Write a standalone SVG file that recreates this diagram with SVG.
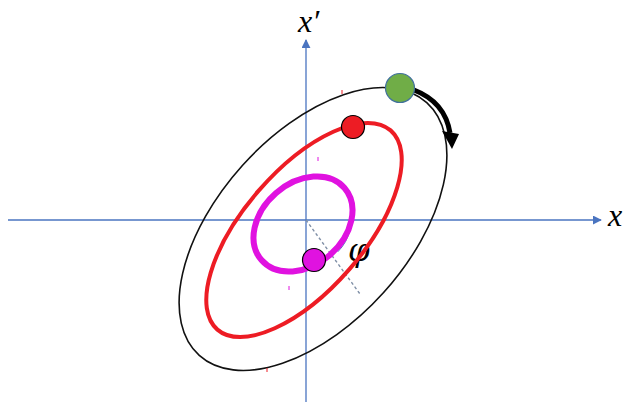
<svg xmlns="http://www.w3.org/2000/svg" width="628" height="402" viewBox="0 0 628 402">
<defs>
<style>
.axis{stroke:#4A74C0;stroke-width:1.3;fill:none}
.lbl{font-family:"Liberation Serif",serif;font-style:italic;fill:#000}
.phi{font-family:"DejaVu Serif",serif;font-style:italic;fill:#000}
.dot{stroke-width:1.2}
.tick{stroke-width:1}
</style>
<marker id="ah" viewBox="0 0 10 10" refX="9" refY="5" markerWidth="9" markerHeight="9" markerUnits="userSpaceOnUse" orient="auto">
<path d="M0,0 L10,5 L0,10 z" fill="#4A74C0"/>
</marker>
</defs>
<rect width="628" height="402" fill="#fff"/>
<g id="axes">
<line class="axis" x1="8" y1="220" x2="601" y2="220" marker-end="url(#ah)"/>
<line class="axis" x1="306" y1="402" x2="306" y2="40" marker-end="url(#ah)"/>
<text class="lbl" x="298" y="32" font-size="32">x′</text>
<text class="lbl" x="608" y="226" font-size="32">x</text>
</g>
<g id="angle">
<line x1="306" y1="220" x2="360" y2="294" stroke="#7F8FA6" stroke-width="1.4" stroke-dasharray="3 2.5"/>
<path d="M350,229.4 A45,45 0 0 1 337.8,251.8" fill="none" stroke="#4A74C0" stroke-width="1"/>
<text class="phi" x="348" y="261" font-size="31">φ</text>
</g>
<g id="orbit-black">
<ellipse cx="313" cy="229" rx="170" ry="95" transform="rotate(-48 313 229)" fill="none" stroke="#111" stroke-width="1.6"/>
</g>
<g id="orbit-red">
<ellipse cx="304" cy="230" rx="132" ry="60" transform="rotate(-49 304 230)" fill="none" stroke="#ED1C24" stroke-width="4"/>
</g>
<g id="orbit-magenta">
<ellipse cx="303" cy="224" rx="55" ry="41" transform="rotate(-41 303 224)" fill="none" stroke="#E012E0" stroke-width="6"/>
</g>
<g id="connectors">
<path d="M414,90 Q445,102 450,133" fill="none" stroke="#000" stroke-width="5"/>
<path d="M442,131 L459,134 L452,149 z" fill="#000"/>
</g>
<g id="dot-green">
<circle class="dot" cx="400" cy="88" r="14.5" fill="#70AD47" stroke="#41719C" stroke-width="1.5"/>
</g>
<g id="dot-red">
<circle class="dot" cx="353" cy="127" r="11.5" fill="#ED1C24" stroke="#000"/>
</g>
<g id="dot-magenta">
<circle class="dot" cx="314" cy="260" r="11.5" fill="#E012E0" stroke="#000"/>
</g>
<g id="marks">
<line class="tick" x1="342" y1="90" x2="342" y2="94" stroke="#ED1C24"/>
<line class="tick" x1="318" y1="157" x2="318" y2="161" stroke="#E012E0"/>
<line class="tick" x1="289" y1="286" x2="289" y2="290" stroke="#E012E0"/>
<line class="tick" x1="267" y1="368" x2="267" y2="372" stroke="#ED1C24"/>
</g>
</svg>
